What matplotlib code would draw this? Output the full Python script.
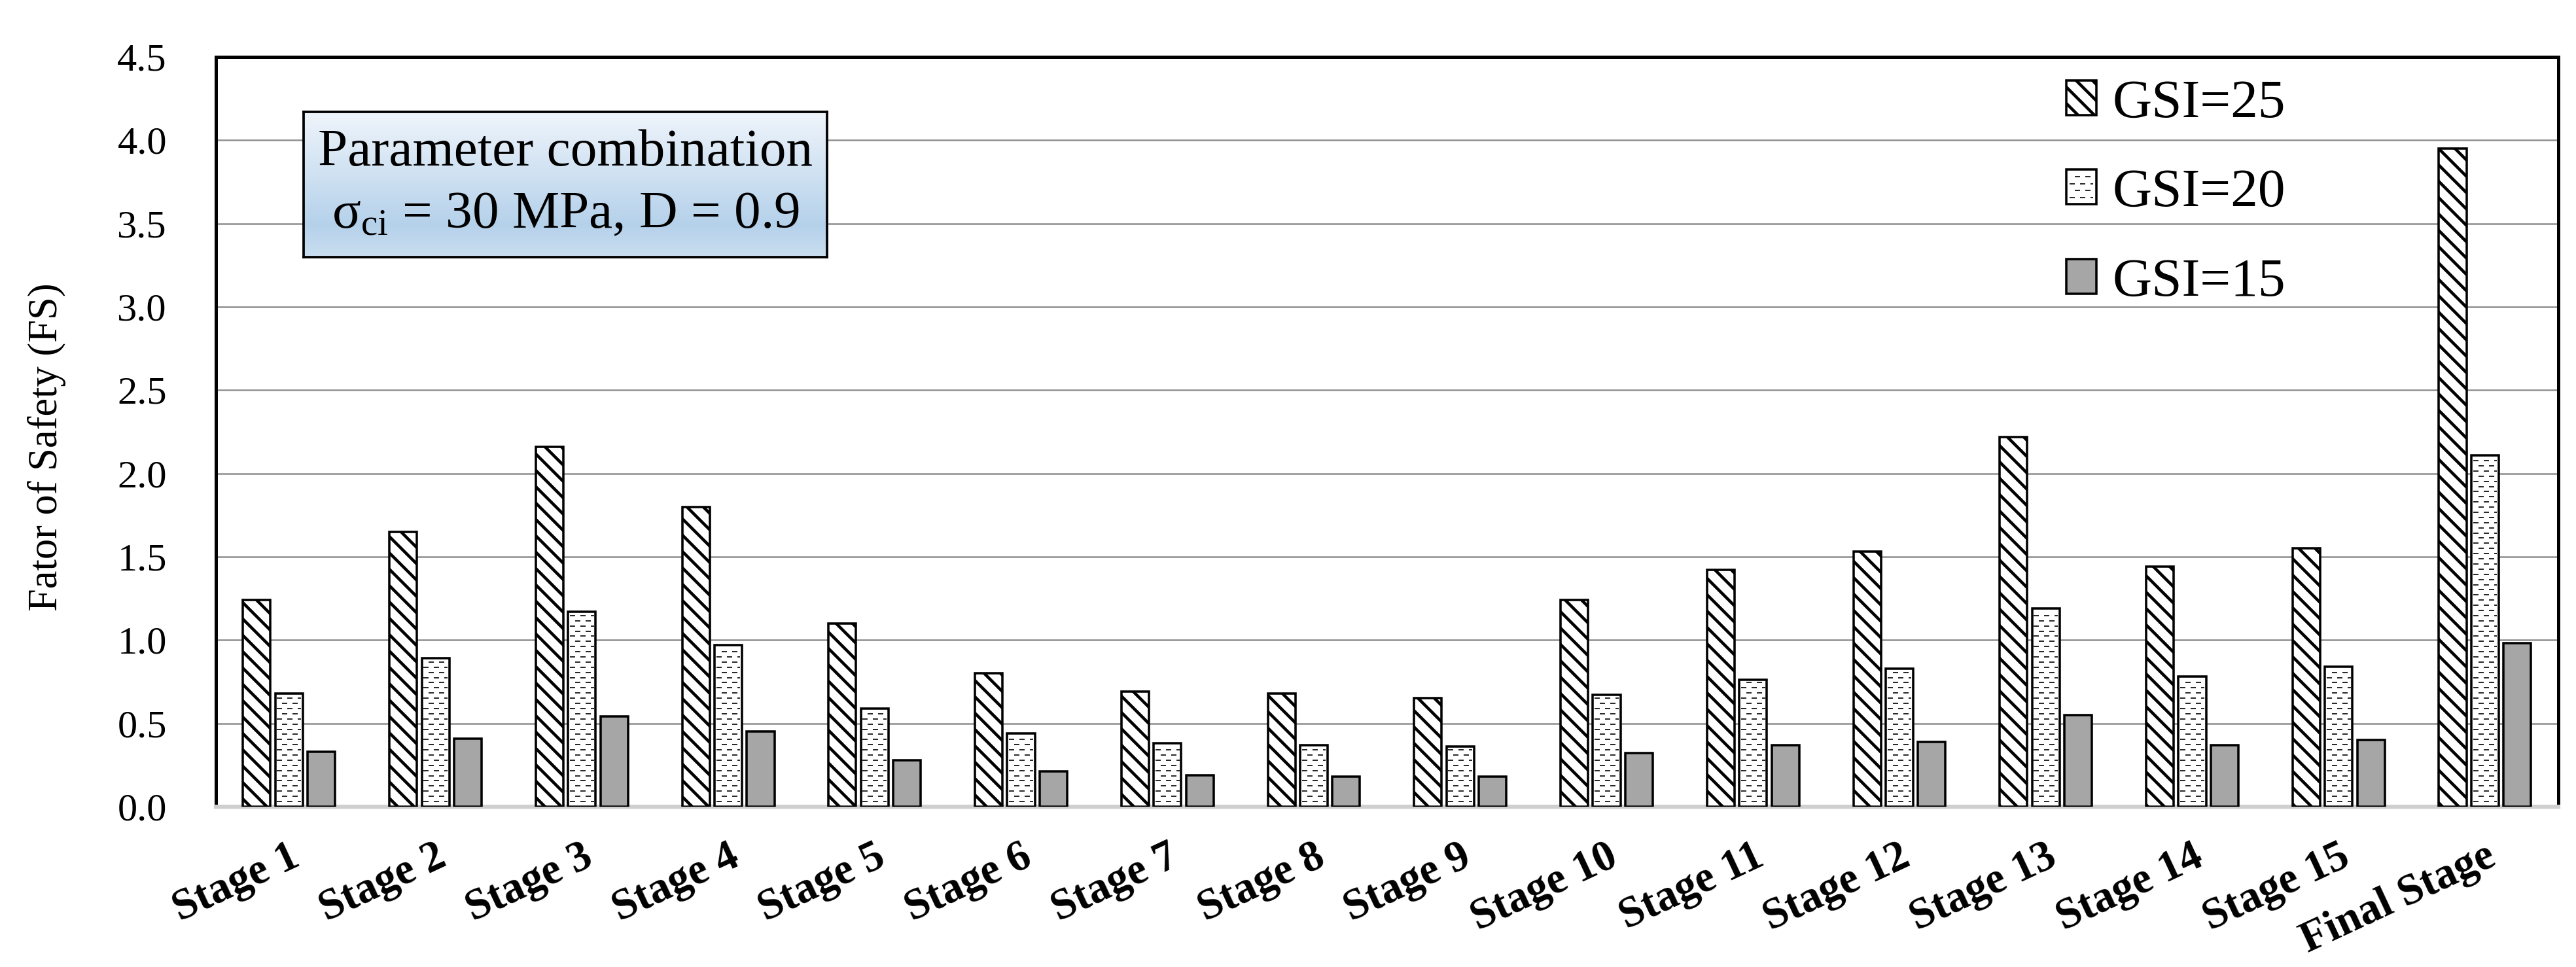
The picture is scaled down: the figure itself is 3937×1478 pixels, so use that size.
import matplotlib
matplotlib.use('Agg')
import matplotlib.pyplot as plt
import numpy as np
from matplotlib.patches import Patch, Rectangle
from matplotlib.collections import LineCollection
from matplotlib.legend_handler import HandlerBase

# data
stages = ['Stage 1', 'Stage 2', 'Stage 3', 'Stage 4', 'Stage 5', 'Stage 6', 'Stage 7',
          'Stage 8', 'Stage 9', 'Stage 10', 'Stage 11', 'Stage 12', 'Stage 13',
          'Stage 14', 'Stage 15', 'Final Stage']
fs_gsi25 = [1.24, 1.65, 2.16, 1.80, 1.10, 0.80, 0.69, 0.68, 0.65, 1.24, 1.42, 1.53, 2.22, 1.44, 1.55, 3.95]
fs_gsi20 = [0.68, 0.89, 1.17, 0.97, 0.59, 0.44, 0.38, 0.37, 0.36, 0.67, 0.76, 0.83, 1.19, 0.78, 0.84, 2.11]
fs_gsi15 = [0.33, 0.41, 0.54, 0.45, 0.28, 0.21, 0.19, 0.18, 0.18, 0.32, 0.37, 0.39, 0.55, 0.37, 0.40, 0.98]
series_labels = ['GSI=25', 'GSI=20', 'GSI=15']
yticks = [0.0, 0.5, 1.0, 1.5, 2.0, 2.5, 3.0, 3.5, 4.0, 4.5]

plt.rcParams['font.family'] = ['Liberation Serif', 'DejaVu Serif']
plt.rcParams['mathtext.fontset'] = 'custom'
plt.rcParams['mathtext.rm'] = 'Liberation Serif'
plt.rcParams['mathtext.it'] = 'Liberation Serif:italic'
plt.rcParams['hatch.linewidth'] = 2.2
plt.rcParams['lines.scale_dashes'] = False

DPI = 150
dash = 3.84


class DashedBoxHandler(HandlerBase):
    # legend key: white square with rows of short dashes
    def create_artists(self, legend, orig_handle, xdescent, ydescent, width, height, fontsize, trans):
        rect = Rectangle((-xdescent, -ydescent), width, height, facecolor='white',
                         edgecolor='black', linewidth=1.7, transform=trans)
        arts = [rect]
        rows = np.linspace(-ydescent + height * 0.2, -ydescent + height * 0.8, 4)
        for k, offset in enumerate([0, dash]):
            segs = [[(-xdescent + width * 0.1, y), (-xdescent + width * 0.9, y)] for y in rows[k::2]]
            lc = LineCollection(segs, colors='black', linewidths=0.8,
                                linestyles=[(offset, (dash, dash))], transform=trans)
            arts.append(lc)
        return arts


fig = plt.figure(figsize=(3937 / DPI, 1478 / DPI), dpi=DPI)
ax = fig.add_axes([0.0838, 0.1658, 0.9093, 0.7753])

x = np.arange(len(stages))
w = 0.188
off = 0.221
edge_lw = 1.7

b25 = ax.bar(x - off, fs_gsi25, w, color='white', edgecolor='black', hatch='\\\\',
             linewidth=edge_lw, zorder=3)
b20 = ax.bar(x, fs_gsi20, w, color='white', edgecolor='black', linewidth=edge_lw, zorder=3)
b15 = ax.bar(x + off, fs_gsi15, w, color='#a6a6a6', edgecolor='black', linewidth=edge_lw, zorder=3)

# dashed fill pattern for the GSI=20 bars (alternating rows)
step = 0.031
for bar in b20:
    x0 = bar.get_x() + 0.012
    x1 = bar.get_x() + bar.get_width() - 0.012
    h = bar.get_height()
    ys = np.arange(step, h - step * 0.4, step)
    for k, offset in enumerate([0, dash]):
        segs = [[(x0, y), (x1, y)] for y in ys[k::2]]
        lc = LineCollection(segs, colors='black', linewidths=0.8,
                            linestyles=[(offset, (dash, dash))], zorder=3.2)
        lc.set_clip_path(bar)
        ax.add_collection(lc)

ax.set_xlim(-0.5, len(stages) - 0.5)
ax.set_ylim(0, 4.5)
ax.set_yticks(yticks)
ax.set_yticklabels([f'{v:.1f}' for v in yticks])
ax.yaxis.grid(True, color='#8f8f8f', linewidth=1.2)
ax.set_axisbelow(True)

for side in ['top', 'left', 'right']:
    ax.spines[side].set_color('black')
    ax.spines[side].set_linewidth(2.4)
ax.spines['bottom'].set_color('#cfcfcf')
ax.spines['bottom'].set_linewidth(3)

ax.tick_params(axis='y', length=0, pad=36, labelsize=29)
ax.tick_params(axis='x', length=0, pad=22)
ax.set_xticks(x)
ax.set_xticklabels(stages, rotation=25, ha='right', rotation_mode='anchor',
                   fontweight='bold', fontsize=32)

ax.set_ylabel('Fator of Safety (FS)', fontsize=30)
ax.yaxis.set_label_coords(-0.064, 0.48)

# parameter box with gradient fill
box = ax.inset_axes([0.0374, 0.733, 0.2236, 0.194])
top_c = np.array([0.94, 0.96, 0.985])
mid_c = np.array([0.71, 0.82, 0.92])
bot_c = np.array([0.79, 0.87, 0.94])
t = np.linspace(0, 1, 200)[:, None]
grad = np.where(t < 0.78, top_c + (mid_c - top_c) * (t / 0.78),
                mid_c + (bot_c - mid_c) * ((t - 0.78) / 0.22))
box.imshow(grad[:, None, :], extent=[0, 1, 0, 1], aspect='auto', origin='upper')
box.set_xlim(0, 1)
box.set_ylim(0, 1)
box.set_xticks([])
box.set_yticks([])
for s in box.spines.values():
    s.set_color('black')
    s.set_linewidth(1.8)
box.text(0.5, 0.716, 'Parameter combination', ha='center', va='center', fontsize=39)
box.text(0.5, 0.29, r'$\mathrm{\sigma_{ci}}$ = 30 MPa, D = 0.9', ha='center', va='center', fontsize=39)

gsi20_key = Patch(facecolor='white', edgecolor='black')
handles = [b25, gsi20_key, b15]
ax.legend(handles, series_labels, loc='upper left', bbox_to_anchor=(0.79, 0.97),
          frameon=False, fontsize=40, handlelength=0.55, handleheight=0.6,
          handletextpad=0.3, labelspacing=0.73, borderpad=0, borderaxespad=0,
          handler_map={gsi20_key: DashedBoxHandler()})

fig.savefig('out.png', dpi=DPI)
